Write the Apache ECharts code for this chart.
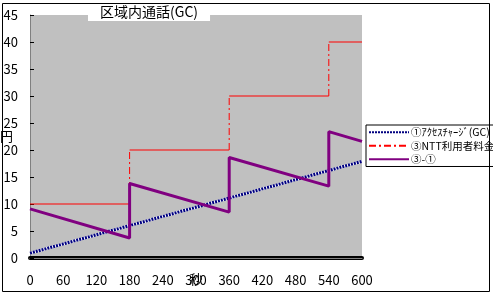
<!DOCTYPE html>
<html>
<head>
<meta charset="utf-8">
<script src="https://cdn.jsdelivr.net/npm/echarts@6/dist/echarts.min.js"></script>
<style>
  html, body { margin: 0; padding: 0; background: #fff; }
  #chart { width: 493px; height: 295px; }
</style>
</head>
<body>
<div id="chart"></div>
<script>
// 秒 -> 円
const accessCharge = [[0, 0.9], [600, 17.9]];
const nttFee = [[0, 10], [180, 10], [180, 20], [360, 20], [360, 30], [540, 30], [540, 40], [600, 40]];
const nttMinusAccess = [[0, 9.1], [180, 3.7], [180, 13.8], [360, 8.5], [360, 18.6], [540, 13.3], [540, 23.4], [600, 21.6]];

const names = ['①ｱｸｾｽﾁｬｰｼﾞ(GC)', '③NTT利用者料金', '③-①'];
const font = "'Noto Sans CJK JP', sans-serif";

// 横線（実線）と縦の段差（一点鎖線）に分ける
const flatParts = [];
const stepParts = [];
for (let i = 0; i < nttFee.length - 1; i++) {
  const a = nttFee[i], b = nttFee[i + 1];
  const target = a[0] === b[0] ? stepParts : flatParts;
  target.push(a, b, [b[0], '-']);
}

const chart = echarts.init(document.getElementById('chart'));

chart.setOption({
  animation: false,
  textStyle: { fontFamily: font },
  title: {
    text: '区域内通話(GC)',
    left: 88,
    top: 3,
    padding: [1, 12, 1, 12],
    backgroundColor: '#fff',
    textStyle: { fontSize: 14, fontWeight: 'normal', color: '#000', fontFamily: font, lineHeight: 16 }
  },
  legend: {
    data: names,
    orient: 'vertical',
    left: 366,
    top: 125,
    padding: [2, 40, 2, 2],
    itemGap: 3,
    itemWidth: 40,
    itemHeight: 12,
    borderColor: '#000',
    borderWidth: 1,
    backgroundColor: '#fff',
    itemStyle: { opacity: 0 },
    textStyle: { fontSize: 10.5, color: '#000', fontFamily: font, padding: [0, 0, 0, -3] }
  },
  grid: {
    left: 30, top: 15, right: 131, bottom: 37,
    outerBoundsMode: 'none',
    show: true, backgroundColor: '#c0c0c0', borderWidth: 0
  },
  xAxis: [
    {
      type: 'value', min: 0, max: 600, interval: 60,
      name: '秒', nameLocation: 'middle', nameGap: 15, nameMoveOverlap: false,
      nameTextStyle: { fontSize: 13, color: '#000' },
      axisLine: { lineStyle: { color: '#000', width: 4 } },
      axisTick: { show: false },
      splitLine: { show: false },
      axisLabel: { margin: 16, fontSize: 13, color: '#000' }
    },
    {
      type: 'value', min: 0, max: 600, position: 'top',
      axisLine: { lineStyle: { color: '#808080', width: 1 } },
      axisTick: { show: false }, axisLabel: { show: false }, splitLine: { show: false }
    }
  ],
  yAxis: [
    {
      type: 'value', min: 0, max: 45, interval: 5,
      name: '円', nameLocation: 'middle', nameGap: 17, nameRotate: 0, nameMoveOverlap: false,
      nameTextStyle: { fontSize: 13, color: '#000', padding: [0, 0, 22, 0] },
      axisLine: { show: false },
      axisTick: { show: true, inside: true, length: 4, lineStyle: { color: '#000' } },
      splitLine: { show: false },
      axisLabel: { margin: 12, fontSize: 13, color: '#000' }
    },
    {
      type: 'value', min: 0, max: 45, position: 'right',
      axisLine: { show: true, lineStyle: { color: '#808080', width: 1 } },
      axisTick: { show: false }, axisLabel: { show: false }, splitLine: { show: false }
    }
  ],
  series: [
    {
      type: 'line', data: accessCharge, symbol: 'none', silent: true,
      lineStyle: { color: '#fff', width: 3 }
    },
    {
      name: names[0], type: 'line', data: accessCharge, symbol: 'none',
      lineStyle: { color: '#000080', width: 3, type: [2, 1] }
    },
    {
      type: 'line', data: flatParts, symbol: 'none', silent: true,
      lineStyle: { color: '#ff0000', width: 1 }
    },
    {
      name: names[1], type: 'line', data: stepParts, symbol: 'none',
      lineStyle: { color: '#ff0000', width: 1, type: [7, 3, 2, 3] }
    },
    {
      name: names[2], type: 'line', data: nttMinusAccess, symbol: 'none',
      lineStyle: { color: '#800080', width: 3 }
    }
  ],
  graphic: [
    {
      type: 'rect', z: 100, silent: true,
      shape: { x: 2.5, y: 3.5, width: 487, height: 288 },
      style: { fill: 'none', stroke: '#000', lineWidth: 1 }
    }
  ]
});
</script>
</body>
</html>
